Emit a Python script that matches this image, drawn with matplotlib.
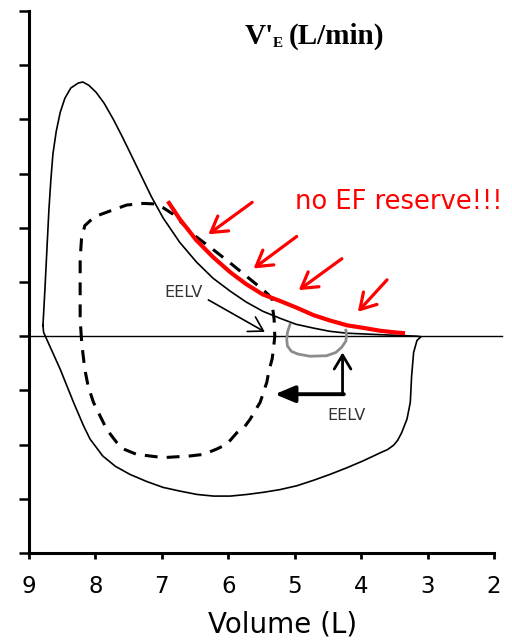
import numpy as np
import matplotlib.pyplot as plt

# maximal flow-volume envelope (expiration on top, inspiration below)
outer_vol = [8.79, 8.76, 8.73, 8.70, 8.67, 8.64, 8.59, 8.53, 8.46, 8.37, 8.26, 8.19,
             8.10, 7.99, 7.87, 7.73, 7.60, 7.48, 7.33, 7.16, 6.98, 6.73, 6.48, 6.23,
             5.97, 5.73, 5.48, 5.22, 4.98, 4.72, 4.47, 4.21, 3.71, 3.34, 3.16, 3.10,
             3.16, 3.21, 3.24, 3.26, 3.31, 3.39, 3.45, 3.51, 3.60, 3.71, 3.97, 4.22,
             4.47, 4.72, 4.97, 5.22, 5.47, 5.72, 5.97, 6.22, 6.47, 6.72, 6.98, 7.23,
             7.48, 7.70, 7.89, 8.08, 8.18, 8.33, 8.53, 8.78, 8.79]
outer_flow = [0.20, 0.87, 1.61, 2.34, 2.90, 3.36, 3.78, 4.13, 4.39, 4.58, 4.67, 4.69,
              4.63, 4.50, 4.30, 4.00, 3.69, 3.39, 3.01, 2.58, 2.18, 1.73, 1.37, 1.07,
              0.83, 0.63, 0.46, 0.33, 0.22, 0.15, 0.09, 0.055, 0.028, 0.009, 0.0, -0.01,
              -0.08, -0.30, -0.73, -1.22, -1.53, -1.78, -1.92, -2.01, -2.09, -2.15, -2.30, -2.43,
              -2.55, -2.66, -2.76, -2.83, -2.88, -2.92, -2.95, -2.95, -2.92, -2.86, -2.79, -2.68,
              -2.55, -2.40, -2.21, -1.90, -1.65, -1.22, -0.61, 0.07, 0.20]

# exercise tidal loop (dashed)
tidal_vol = [8.21, 8.23, 8.23, 8.23, 8.21, 8.16, 8.08, 7.98, 7.78, 7.53, 7.28, 7.10,
             6.98, 6.83, 6.50, 6.24, 6.00, 5.75, 5.49, 5.40, 5.34, 5.33, 5.31, 5.30,
             5.32, 5.34, 5.39, 5.42, 5.48, 5.52, 5.60, 5.67, 5.76, 5.87, 6.02, 6.17,
             6.37, 6.58, 6.98, 7.38, 7.58, 7.68, 7.83, 7.93, 8.03, 8.11, 8.16, 8.19, 8.21]
tidal_flow = [-0.055, 0.31, 0.87, 1.42, 1.79, 2.04, 2.13, 2.22, 2.31, 2.42, 2.45, 2.44,
              2.37, 2.25, 1.85, 1.61, 1.38, 1.13, 0.87, 0.77, 0.68, 0.50, 0.31, 0.0,
              -0.24, -0.42, -0.65, -0.85, -1.07, -1.22, -1.38, -1.53, -1.68, -1.78, -1.99, -2.08,
              -2.18, -2.21, -2.24, -2.18, -2.08, -1.96, -1.72, -1.47, -1.22, -0.92, -0.61, -0.30, -0.055]

# expiratory flow limitation segment (red)
efl_vol = [6.91, 6.73, 6.48, 6.23, 5.97, 5.73, 5.48, 5.22, 4.96, 4.72, 4.47, 4.21,
           3.95, 3.71, 3.49, 3.34]
efl_flow = [2.49, 2.16, 1.77, 1.46, 1.18, 0.96, 0.77, 0.65, 0.52, 0.39, 0.29, 0.20,
            0.15, 0.10, 0.07, 0.055]

# resting tidal loop (grey)
rest_vol = [5.07, 5.11, 5.12, 5.11, 5.05, 4.95, 4.77, 4.52, 4.38, 4.29, 4.23, 4.22, 4.23]
rest_flow = [0.22, 0.07, -0.06, -0.18, -0.28, -0.33, -0.37, -0.36, -0.30, -0.20, -0.09, 0.02, 0.11]

# red arrows: (tail, head)
red_arrows = [((5.64, 2.47), (6.30, 1.88)),
              ((4.97, 1.84), (5.62, 1.25)),
              ((4.29, 1.43), (4.94, 0.85)),
              ((3.61, 1.04), (4.05, 0.45))]

x_ticks = [9, 8, 7, 6, 5, 4, 3, 2]
y_ticks = list(range(-4, 7))

fig = plt.figure(figsize=(5.12, 6.41), dpi=100)
ax = fig.add_axes([29 / 512, 1 - 553 / 641, 465 / 512, 542 / 641])
ax.set_xlim(9, 2)
ax.set_ylim(-4, 6)

ax.plot([9, 1.88], [0, 0], color='black', lw=1.0, clip_on=False, zorder=1)
ax.plot(outer_vol, outer_flow, color='black', lw=1.2, zorder=2,
        solid_joinstyle='round')
ax.plot(tidal_vol, tidal_flow, color='black', lw=2.2, dashes=(4.2, 3.0), zorder=2)
ax.plot(rest_vol, rest_flow, color='#8c8c8c', lw=2.0, zorder=2,
        solid_joinstyle='round')
ax.plot(efl_vol, efl_flow, color='#ff0000', lw=3.0, zorder=3,
        solid_capstyle='butt', solid_joinstyle='round')

for tail, head in red_arrows:
    ax.annotate('', xy=head, xytext=tail,
                arrowprops=dict(arrowstyle='->,head_length=0.55,head_width=0.33',
                                color='#ff0000', lw=2.3, mutation_scale=20,
                                shrinkA=0, shrinkB=0))

# EELV markers
ax.annotate('', xy=(5.45, 0.08), xytext=(6.30, 0.67),
            arrowprops=dict(arrowstyle='->,head_length=0.5,head_width=0.3',
                            color='black', lw=1.2, mutation_scale=20,
                            shrinkA=0, shrinkB=0))
ax.text(6.68, 0.81, 'EELV', fontsize=11.5, color='#333333', ha='center', va='center')

ax.annotate('', xy=(4.28, -0.30), xytext=(4.28, -1.07),
            arrowprops=dict(arrowstyle='->,head_length=0.5,head_width=0.3',
                            color='black', lw=2.0, mutation_scale=20,
                            shrinkA=0, shrinkB=0))
ax.annotate('', xy=(5.30, -1.07), xytext=(4.26, -1.07),
            arrowprops=dict(arrowstyle='-|>,head_length=0.6,head_width=0.25',
                            color='black', lw=2.8, mutation_scale=20,
                            shrinkA=0, shrinkB=0))
ax.text(4.22, -1.46, 'EELV', fontsize=11.5, color='#333333', ha='center', va='center')

ax.text(3.44, 2.47, 'no EF reserve!!!', fontsize=18.5, color='#ff0000',
        ha='center', va='center', clip_on=False)

# axis title at the top: V'E (L/min)
serif = dict(family='Liberation Serif', fontweight='bold', color='black')
ax.annotate("V'", xy=(5.75, 5.39), xytext=(0, 0), textcoords='offset points',
            fontsize=21, ha='left', va='baseline', **serif)
ax.annotate("E", xy=(5.75, 5.39), xytext=(20.0, -2.4), textcoords='offset points',
            fontsize=11, ha='left', va='baseline', **serif)
ax.annotate("(L/min)", xy=(5.75, 5.39), xytext=(31.5, 0), textcoords='offset points',
            fontsize=21, ha='left', va='baseline', **serif)

for side in ('top', 'right'):
    ax.spines[side].set_visible(False)
for side in ('left', 'bottom'):
    ax.spines[side].set_linewidth(2.2)

ax.set_xticks(x_ticks)
ax.set_xticklabels([str(v) for v in x_ticks])
ax.set_yticks(y_ticks)
ax.tick_params(axis='x', direction='out', length=4, width=2, pad=12, labelsize=16.5)
ax.tick_params(axis='y', direction='out', length=7, width=1.8, labelleft=False)

ax.set_xlabel('Volume (L)', fontsize=20)
ax.xaxis.set_label_coords((282.5 - 29) / 465, (553 - 625) / 542)
ax.xaxis.label.set_va('center')

fig.savefig('out.png', dpi=100)
